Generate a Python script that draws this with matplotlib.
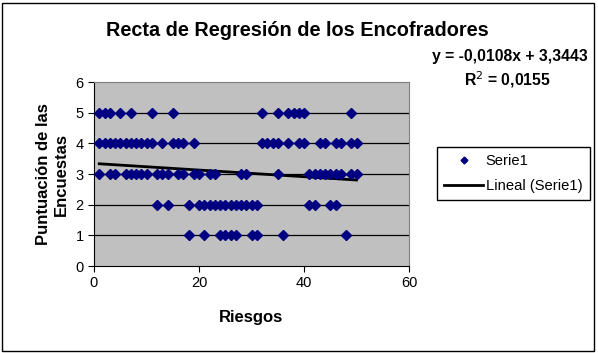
import matplotlib
matplotlib.use("Agg")
import matplotlib.pyplot as plt
from matplotlib.patches import Rectangle

plt.rcParams["font.family"] = ["Liberation Sans", "DejaVu Sans"]

# ------------------------------------------------------------------
# Data (Riesgos vs puntuacion)
# ------------------------------------------------------------------
x_score5 = [1, 2, 3, 5, 7, 11, 15, 32, 35, 37, 38, 39, 40, 49]
x_score4 = [1, 2, 3, 4, 5, 6, 7, 8, 9, 10, 11, 13, 15, 16, 17, 19,
            32, 33, 34, 35, 37, 39, 40, 43, 44, 46, 47, 49, 50]
x_score3 = [1, 3, 4, 6, 7, 8, 9, 10, 12, 13, 14, 16, 17, 19, 20, 22, 23,
            28, 29, 35, 41, 42, 43, 44, 45, 46, 47, 49, 50]
x_score2 = [12, 14, 18, 20, 21, 22, 23, 24, 25, 26, 27, 28, 29, 30, 31,
            41, 42, 45, 46]
x_score1 = [18, 21, 24, 25, 26, 27, 30, 31, 36, 48]

slope = -0.0108
intercept = 3.3443
r2 = 0.0155

xs = x_score5 + x_score4 + x_score3 + x_score2 + x_score1
ys = ([5] * len(x_score5) + [4] * len(x_score4) + [3] * len(x_score3)
      + [2] * len(x_score2) + [1] * len(x_score1))

fig = plt.figure(figsize=(5.98, 3.53), dpi=100)
ax = fig.add_axes([94 / 598, 1 - 266 / 353, 315 / 598, 184 / 353])
ax.set_facecolor("#C0C0C0")

for yv in range(1, 6):
    ax.axhline(yv, color="black", lw=0.9, zorder=1)

ax.plot(xs, ys, linestyle="none", marker="D", color="#000080",
        markersize=4.6, zorder=3, label="Serie1")

x0, x1 = min(xs), max(xs)
ax.plot([x0, x1], [slope * x0 + intercept, slope * x1 + intercept],
        color="black", lw=2.0, zorder=2, label="Lineal (Serie1)")

ax.set_xlim(0, 60)
ax.set_ylim(0, 6)
ax.set_xticks([0, 20, 40, 60])
ax.set_yticks(range(0, 7))
ax.tick_params(labelsize=10.5, length=4, direction="out", color="black")
for s in ("top", "right"):
    ax.spines[s].set_color("#808080")
for s in ("left", "bottom"):
    ax.spines[s].set_color("black")

ax.set_xlabel("Riesgos", fontsize=12, fontweight="bold", labelpad=14)
ax.set_ylabel("Puntuación de las\nEncuestas", fontsize=12,
              fontweight="bold", labelpad=5)

eq = f"y = {slope:.4f}x + {intercept:.4f}".replace(".", ",")
r2_txt = "R$^2$ = " + f"{r2:.4f}".replace(".", ",")

fig.text(297 / 598, 1 - 30 / 353, "Recta de Regresión de los Encofradores",
         ha="center", va="center", fontsize=14.3, fontweight="bold")
fig.text(588 / 598, 1 - 57 / 353, eq,
         ha="right", va="center", fontsize=11.3, fontweight="bold")
fig.text(507 / 598, 1 - 80 / 353, r2_txt,
         ha="center", va="center", fontsize=11.3, fontweight="bold")

fig.legend(loc="upper left", bbox_to_anchor=(437 / 598, 1 - 147 / 353),
           fancybox=False, edgecolor="black", framealpha=1, fontsize=10.6,
           handlelength=2.6, borderpad=0.5, labelspacing=0.7,
           handletextpad=0.2, markerscale=0.75, borderaxespad=0)

fig.patches.append(Rectangle((2 / 598, 2 / 353), 592 / 598, 348 / 353,
                             transform=fig.transFigure, fill=False,
                             edgecolor="black", lw=1))

fig.savefig("out.png", dpi=100)
